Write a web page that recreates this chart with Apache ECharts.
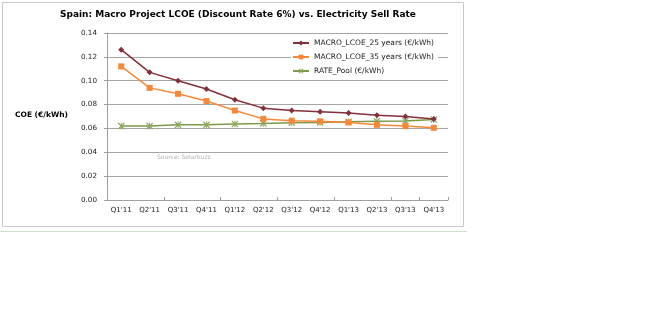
<!DOCTYPE html>
<html>
<head>
<meta charset="utf-8">
<script src="https://cdn.jsdelivr.net/npm/echarts@6/dist/echarts.min.js"></script>
<style>html,body{margin:0;padding:0;background:#fff;}#c{width:671px;height:327px;}</style>
</head>
<body>
<div id="c"></div>
<script>
const categories = ["Q1'11","Q2'11","Q3'11","Q4'11","Q1'12","Q2'12","Q3'12","Q4'12","Q1'13","Q2'13","Q3'13","Q4'13"];
const lcoe25 = [0.126,0.107,0.100,0.093,0.084,0.077,0.075,0.074,0.073,0.071,0.070,0.068];
const lcoe35 = [0.112,0.094,0.089,0.083,0.075,0.068,0.0665,0.066,0.065,0.063,0.062,0.0605];
const ratePool = [0.062,0.062,0.063,0.063,0.0637,0.0642,0.0648,0.065,0.0657,0.066,0.0662,0.0675];
const seriesNames = ["MACRO_LCOE_25 years (€/kWh)","MACRO_LCOE_35 years (€/kWh)","RATE_Pool (€/kWh)"];
const yTicks = [0,0.02,0.04,0.06,0.08,0.10,0.12,0.14];

const FONT = "DejaVu Sans";
const starPath = 'path://M0,1.2L1.2,0L5,3.8L8.8,0L10,1.2L6.2,5L10,8.8L8.8,10L5,6.2L1.2,10L0,8.8L3.8,5Z M4.4,0L5.6,0L5.6,10L4.4,10Z';

const chart = echarts.init(document.getElementById('c'), null, {renderer:'canvas'});
chart.setOption({
  animation:false,
  backgroundColor:'#fff',
  title:{
    text:'Spain: Macro Project LCOE (Discount Rate 6%) vs. Electricity Sell Rate',
    left:233, top:5, textAlign:'center',
    textStyle:{fontFamily:FONT,fontSize:9,fontWeight:'bold',color:'#000'}
  },
  grid:{left:107,right:223,top:33,bottom:127,containLabel:false},
  legend:{
    orient:'vertical', left:291, top:38,
    itemWidth:16, itemHeight:6, itemGap:6,
    backgroundColor:'#fff', padding:[1,4,1,1],
    textStyle:{fontFamily:FONT,fontSize:7.5,color:'#222'},
    data:seriesNames
  },
  xAxis:{
    type:'category', data:categories, boundaryGap:true,
    axisLine:{lineStyle:{color:'#a0a0a0',width:1}},
    axisTick:{show:true,inside:true,length:3,interval:1,lineStyle:{color:'#a0a0a0'}},
    axisLabel:{fontFamily:FONT,fontSize:7,color:'#222',margin:7,interval:0}
  },
  yAxis:{
    type:'value', min:0, max:0.14, interval:0.02,
    axisLine:{show:true,lineStyle:{color:'#a0a0a0',width:1}},
    axisTick:{show:true,length:3,lineStyle:{color:'#a0a0a0'}},
    axisLabel:{fontFamily:FONT,fontSize:7.2,color:'#222',margin:10,
      formatter:v=>v.toFixed(2)},
    splitLine:{lineStyle:{color:'#a6a6a6',width:1}}
  },
  graphic:[
    {type:'rect',shape:{x:2.5,y:2.5,width:461,height:224},style:{fill:'none',stroke:'#c8c8c8',lineWidth:1},z:-1},
    {type:'line',shape:{x1:0,y1:231.5,x2:467,y2:231.5},style:{stroke:'#cfe0cf',lineWidth:1}},
    {type:'text',left:15,top:111,style:{text:'COE (€/kWh)',font:'bold 7.5px "DejaVu Sans"',fill:'#000'}},
    {type:'text',left:157,top:154,style:{text:'Source: Solarbuzz',font:'6px "DejaVu Sans"',fill:'#b0b0b0'}}
  ],
  series:[
    {name:seriesNames[0],type:'line',data:lcoe25,symbol:'diamond',symbolSize:6,
     itemStyle:{color:'#84303a'},lineStyle:{color:'#84303a',width:1.5},z:4},
    {name:seriesNames[1],type:'line',data:lcoe35,symbol:'rect',symbolSize:6,
     itemStyle:{color:'#f7883a'},lineStyle:{color:'#f7883a',width:1.5},z:3},
    {name:seriesNames[2],type:'line',data:ratePool,symbol:starPath,symbolSize:7,
     itemStyle:{color:'#8aa55a'},lineStyle:{color:'#7d9a48',width:1.5},z:2}
  ]
});
</script>
</body>
</html>
